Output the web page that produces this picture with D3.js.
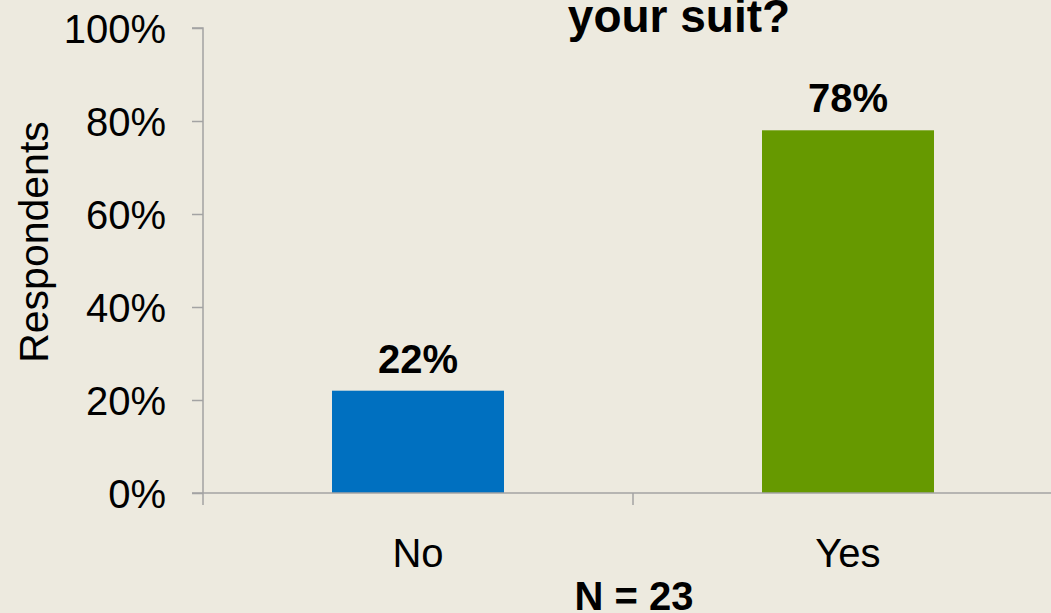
<!DOCTYPE html>
<html>
<head>
<meta charset="utf-8">
<script src="https://cdn.jsdelivr.net/npm/d3@7"></script>
<style>
  html, body { margin: 0; padding: 0; background: #EDEADF; }
  svg { display: block; }
  text { font-family: "Liberation Sans", Arial, sans-serif; fill: #000; }
</style>
</head>
<body>
<svg id="chart" width="1051" height="613"></svg>
<script>
const categories = ["No", "Yes"];
const values = [22, 78];
const barColors = ["#0070C0", "#669900"];
const yTicks = [0, 20, 40, 60, 80, 100];
const titleText = "your suit?";
const yAxisTitle = "Respondents";
const footnote = "N = 23";

const svg = d3.select("#chart");
const W = 1051, H = 613;
svg.append("rect").attr("width", W).attr("height", H).attr("fill", "#EDEADF");

const x0 = 203, plotTop = 28, plotBottom = 493;
const x = d3.scaleBand().domain(categories).range([x0, x0 + 860]).paddingInner(0).paddingOuter(0);
const y = d3.scaleLinear().domain([0, 100]).range([plotBottom, plotTop]);
const barW = x.bandwidth() * 0.4;

const axisColor = "#A3A3A3";

// bars
svg.selectAll("rect.bar").data(categories).enter().append("rect")
  .attr("class", "bar")
  .attr("x", d => x(d) + (x.bandwidth() - barW) / 2)
  .attr("y", (d, i) => y(values[i]))
  .attr("width", barW)
  .attr("height", (d, i) => y(0) - y(values[i]))
  .attr("fill", (d, i) => barColors[i]);

// y axis
const yAxis = d3.axisLeft(y).tickValues(yTicks).tickSize(11).tickFormat(d => d + "%");
const gy = svg.append("g").attr("transform", `translate(${x0},0)`).call(yAxis);
gy.select(".domain").attr("stroke", axisColor).attr("stroke-width", 1.5).attr("d", `M-11,${plotTop}H0V${plotBottom}`);
gy.selectAll(".tick line").attr("stroke", axisColor).attr("stroke-width", 1.5);
gy.selectAll(".tick text")
  .attr("x", -37).attr("dy", "0.35em")
  .style("font-size", "40px").style("font-family", "'Liberation Sans', Arial, sans-serif")
  .attr("fill", "#000");

// x axis
const xAxis = d3.axisBottom(x).tickSize(0).tickFormat("");
const gx = svg.append("g").attr("transform", `translate(0,${plotBottom})`).call(xAxis);
gx.select(".domain").attr("stroke", axisColor).attr("stroke-width", 1.5).attr("d", `M192,0H${W}`);
gx.selectAll(".tick").remove();
// category separator ticks
const sepX = [x0].concat(categories.map(c => x(c) + x.bandwidth()));
gx.selectAll("line.sep").data(sepX).enter().append("line")
  .attr("class", "sep")
  .attr("x1", d => d).attr("x2", d => d)
  .attr("y1", 0).attr("y2", 12)
  .attr("stroke", axisColor).attr("stroke-width", 1.5);

// category labels
svg.selectAll("text.cat").data(categories).enter().append("text")
  .attr("class", "cat")
  .attr("x", d => x(d) + x.bandwidth() / 2)
  .attr("y", 567)
  .attr("text-anchor", "middle")
  .style("font-size", "40px")
  .text(d => d);

// value labels
svg.selectAll("text.val").data(categories).enter().append("text")
  .attr("class", "val")
  .attr("x", d => x(d) + x.bandwidth() / 2)
  .attr("y", (d, i) => y(values[i]) - 18)
  .attr("text-anchor", "middle")
  .style("font-size", "40px").style("font-weight", "bold")
  .text((d, i) => values[i] + "%");

// title
svg.append("text")
  .attr("x", 679).attr("y", 32)
  .attr("text-anchor", "middle")
  .style("font-size", "46px").style("font-weight", "bold")
  .text(titleText);

// y axis title
svg.append("text")
  .attr("transform", "translate(48,242) rotate(-90)")
  .attr("text-anchor", "middle")
  .style("font-size", "41px")
  .text(yAxisTitle);

// footnote
svg.append("text")
  .attr("x", 634).attr("y", 610)
  .attr("text-anchor", "middle")
  .style("font-size", "40px").style("font-weight", "bold")
  .text(footnote);
</script>
</body>
</html>
